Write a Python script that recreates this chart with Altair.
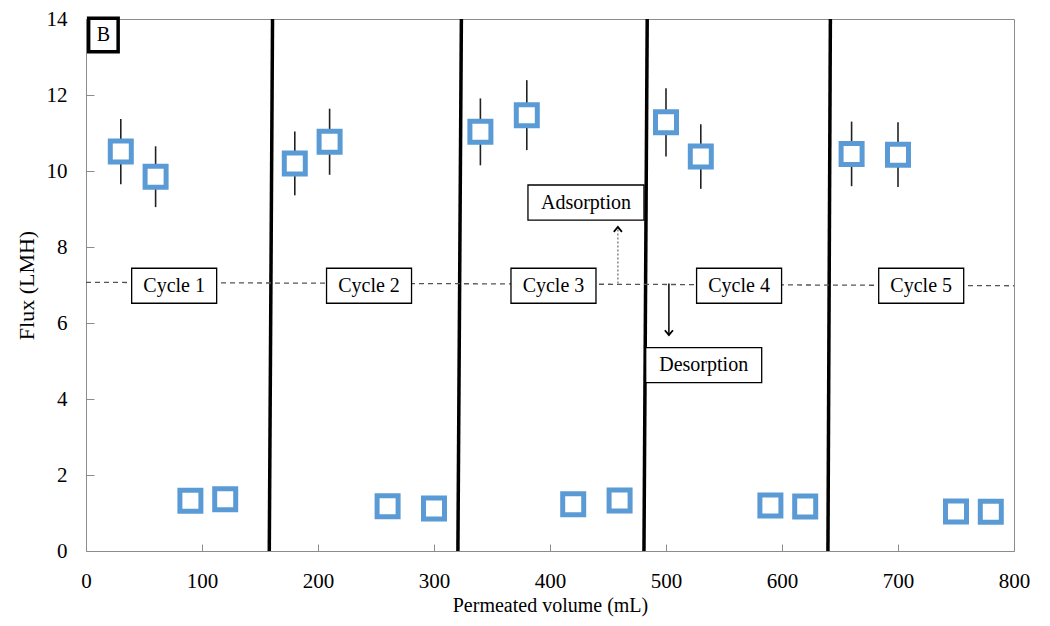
import altair as alt
import pandas as pd

# ---- data ----
volume = [30, 60, 90, 120, 180, 210, 260, 300, 340, 380,
          420, 460, 500, 530, 590, 620, 660, 700, 750, 780]
flux = [10.51, 9.85, 1.32, 1.36, 10.2, 10.77, 1.18, 1.12, 11.03, 11.47,
        1.23, 1.33, 11.28, 10.38, 1.2, 1.17, 10.45, 10.43, 1.04, 1.03]
flux_err = [0.86, 0.8, 0, 0, 0.84, 0.87, 0, 0, 0.88, 0.92,
            0, 0, 0.9, 0.85, 0, 0, 0.85, 0.85, 0, 0]

boundary_bottom = [158.0, 320.6, 481.0, 639.6]
boundary_top = [160.8, 323.6, 483.8, 641.7]

cycle_labels = ["Cycle 1", "Cycle 2", "Cycle 3", "Cycle 4", "Cycle 5"]
cycle_x = [76, 244, 403, 563, 720]
cycle_y = [6.98, 6.98, 6.98, 6.98, 6.98]

divider_x = [0, 800]
divider_y = [7.07, 6.98]

phase_labels = ["Adsorption", "Desorption"]
phase_x = [431, 532.5]
phase_y = [9.17, 4.89]

arrow_x = [458.5, 502.5]
arrow_start = [7.04, 7.04]
arrow_end = [8.53, 5.68]

panel_label = ["B"]
panel_x = [15]
panel_y = [13.58]

x_ticks = [0, 100, 200, 300, 400, 500, 600, 700, 800]
y_ticks = [0, 2, 4, 6, 8, 10, 12, 14]

BLUE = "#5B9BD5"
FONT = "Liberation Serif"

pts = pd.DataFrame({"volume": volume, "flux": flux, "err": flux_err})
pts["lo"] = pts["flux"] - pts["err"]
pts["hi"] = pts["flux"] + pts["err"]

xs = alt.Scale(domain=[0, 800], nice=False, zero=False)
ys = alt.Scale(domain=[0, 14], nice=False, zero=False)

XA = alt.Axis(values=x_ticks, title="Permeated volume (mL)", domain=False, grid=False,
              tickSize=7, tickColor="#8c8c8c", offset=-7, labelPadding=19,
              labelFont=FONT, labelFontSize=21, labelColor="black", labelFlush=False,
              titleFont=FONT, titleFontSize=20, titleFontWeight="normal",
              titleColor="black", titlePadding=4)
YA = alt.Axis(values=y_ticks, title="Flux (LMH)", domain=False, grid=False,
              tickSize=8, tickColor="#8c8c8c", offset=-8, labelPadding=19,
              labelFont=FONT, labelFontSize=21, labelColor="black",
              titleFont=FONT, titleFontSize=22, titleFontWeight="normal",
              titleColor="black", titlePadding=8)


def X(f):
    return alt.X(f, scale=xs, axis=XA)


def Y(f):
    return alt.Y(f, scale=ys, axis=YA)


# cycle boundaries
bnd = pd.DataFrame({"xb": boundary_bottom, "xt": boundary_top,
                    "y0": [0] * len(boundary_bottom), "y1": [14] * len(boundary_top)})
boundaries = alt.Chart(bnd).mark_rule(color="black", strokeWidth=3.5).encode(
    x=X("xb:Q"), x2="xt:Q", y=Y("y0:Q"), y2="y1:Q")

# dashed divider
div = pd.DataFrame({"x0": [divider_x[0]], "x1": [divider_x[1]],
                    "y0": [divider_y[0]], "y1": [divider_y[1]]})
divider = alt.Chart(div).mark_rule(color="#555555", strokeWidth=1.3, strokeDash=[5, 4]).encode(
    x=X("x0:Q"), x2="x1:Q", y=Y("y0:Q"), y2="y1:Q")

# arrows
arr = pd.DataFrame({"x": arrow_x, "y0": arrow_start, "y1": arrow_end, "kind": phase_labels})
arrow_ads = alt.Chart(arr).transform_filter(alt.datum.kind == "Adsorption").mark_rule(
    color="#888888", strokeWidth=1.5, strokeDash=[2, 2]).encode(
    x=X("x:Q"), y=Y("y0:Q"), y2="y1:Q")
arrow_des = alt.Chart(arr).transform_filter(alt.datum.kind == "Desorption").mark_rule(
    color="black", strokeWidth=1.5).encode(
    x=X("x:Q"), y=Y("y0:Q"), y2="y1:Q")
head_up = alt.Chart(arr).transform_filter(alt.datum.kind == "Adsorption").mark_point(
    shape="M-0.9,1.1L0,0L0.9,1.1", size=81, filled=False, color="black",
    strokeWidth=1.8, opacity=1).encode(x=X("x:Q"), y=Y("y1:Q"))
head_down = alt.Chart(arr).transform_filter(alt.datum.kind == "Desorption").mark_point(
    shape="M-0.9,-1.1L0,0L0.9,-1.1", size=81, filled=False, color="black",
    strokeWidth=1.8, opacity=1).encode(x=X("x:Q"), y=Y("y1:Q"))

# cycle boxes and labels
cyc = pd.DataFrame({"x": cycle_x, "y": cycle_y, "label": cycle_labels})
cycle_box = alt.Chart(cyc).mark_point(
    shape="M-1,-0.412H1V0.412H-1Z", size=7225, filled=True, fill="white",
    stroke="black", strokeWidth=1.3, opacity=1).encode(x=X("x:Q"), y=Y("y:Q"))
cycle_text = alt.Chart(cyc).mark_text(font=FONT, fontSize=20, color="black").encode(
    x=X("x:Q"), y=Y("y:Q"), text="label:N")

ph = pd.DataFrame({"x": phase_x, "y": phase_y, "label": phase_labels})
phase_box = alt.Chart(ph).mark_point(
    shape="M-1,-0.302H1V0.302H-1Z", size=13456, filled=True, fill="white",
    stroke="black", strokeWidth=1.3, opacity=1).encode(x=X("x:Q"), y=Y("y:Q"))
phase_text = alt.Chart(ph).mark_text(font=FONT, fontSize=20, color="black").encode(
    x=X("x:Q"), y=Y("y:Q"), text="label:N")

# error bars and markers
errbars = alt.Chart(pts).transform_filter(alt.datum.err > 0).mark_rule(
    color="#222222", strokeWidth=1.6).encode(
    x=X("volume:Q"), y=Y("lo:Q"), y2="hi:Q")
markers = alt.Chart(pts).mark_point(
    shape="square", size=441, filled=True, fill="white", stroke=BLUE,
    strokeWidth=5, opacity=1).encode(x=X("volume:Q"), y=Y("flux:Q"))

# panel label
pn = pd.DataFrame({"x": panel_x, "y": panel_y, "label": panel_label})
panel_box = alt.Chart(pn).mark_point(
    shape="M-1,-1.136H1V1.136H-1Z", size=870, filled=True, fill="white",
    stroke="black", strokeWidth=3.5, opacity=1).encode(x=X("x:Q"), y=Y("y:Q"))
panel_text = alt.Chart(pn).mark_text(font=FONT, fontSize=20, color="black").encode(
    x=X("x:Q"), y=Y("y:Q"), text="label:N")

chart = alt.layer(
    boundaries, divider, arrow_ads, arrow_des, head_up, head_down,
    cycle_box, cycle_text, phase_box, phase_text, errbars, markers,
    panel_box, panel_text
).properties(
    width=928, height=532,
    padding={"left": 78, "top": 11, "right": 20, "bottom": 67},
    autosize=alt.AutoSizeParams(type="none"),
    background="white"
).configure_view(stroke="#8c8c8c", strokeWidth=1)

chart.save("out.html", embed_options={"renderer": "svg", "actions": False})
